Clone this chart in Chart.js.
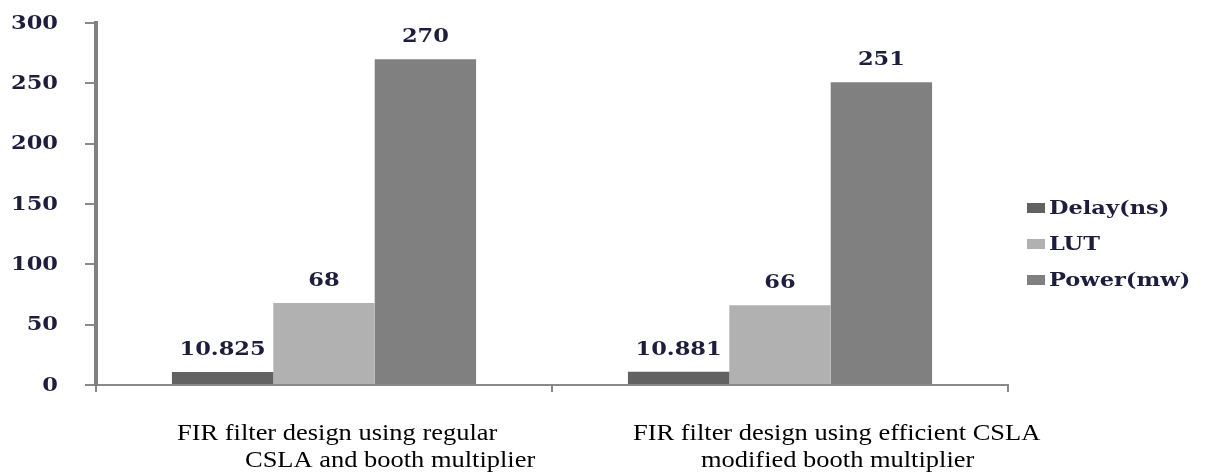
<!DOCTYPE html>
<html>
<head>
<meta charset="utf-8">
<script src="https://cdn.jsdelivr.net/npm/chart.js@4/dist/chart.umd.min.js"></script>
<style>
  html, body { margin: 0; padding: 0; background: #ffffff; }
  canvas { display: block; }
</style>
</head>
<body>
<canvas id="c" width="1215" height="474"></canvas>
<script>
// ---- data ----
const categories = [
  ["FIR filter design using regular", "CSLA and booth multiplier"],
  ["FIR filter design using efficient CSLA", "modified booth multiplier"]
];
const seriesNames = ["Delay(ns)", "LUT", "Power(mw)"];
const delayValues = [10.825, 10.881];
const lutValues = [68, 66];
const powerValues = [270, 251];
const yTicks = [0, 50, 100, 150, 200, 250, 300];

// ---- styles ----
const colors = ["#626262", "#b1b1b1", "#808080"];
const numFont = 'bold 18px "DejaVu Serif"';
const numColor = "#1d1d3d";
const stretch = 1.25;
const catFont = '23px "Liberation Serif"';
const catStretch = 1.15;

function drawStretched(ctx, text, x, y, align, sx) {
  const w = ctx.measureText(text).width * sx;
  let left = x;
  if (align === "center") left = x - w / 2;
  else if (align === "right") left = x - w;
  ctx.save();
  ctx.translate(left, y);
  ctx.scale(sx, 1);
  ctx.textAlign = "left";
  ctx.fillText(text, 0, 0);
  ctx.restore();
}

const textPlugin = {
  id: "textPlugin",
  afterDraw(chart) {
    const ctx = chart.ctx;
    const area = chart.chartArea;
    const ys = chart.scales.y;
    const xs = chart.scales.x;
    ctx.save();
    ctx.textBaseline = "middle";
    // y tick labels
    ctx.font = numFont;
    ctx.fillStyle = numColor;
    yTicks.forEach(v => {
      drawStretched(ctx, String(v), area.left - 38, ys.getPixelForValue(v) + 1, "right", stretch);
    });
    // value labels
    ctx.textBaseline = "alphabetic";
    chart.data.datasets.forEach((ds, i) => {
      const meta = chart.getDatasetMeta(i);
      meta.data.forEach((el, j) => {
        drawStretched(ctx, String(ds.data[j]), el.x, el.y - 17, "center", stretch);
      });
    });
    // category labels (left aligned, second line indented)
    ctx.font = catFont;
    ctx.fillStyle = "#000000";
    categories.forEach((lines, i) => {
      const cx = xs.getPixelForValue(i);
      drawStretched(ctx, lines[0], cx - 147, area.bottom + 55, "left", catStretch);
      drawStretched(ctx, lines[1], cx - 79, area.bottom + 82, "left", catStretch);
    });
    // legend
    ctx.font = numFont;
    chart.data.datasets.forEach((ds, i) => {
      const cy = 208 + i * 36;
      ctx.fillStyle = ds.backgroundColor;
      ctx.fillRect(area.right + 19, cy - 5, 18, 10);
      ctx.fillStyle = numColor;
      drawStretched(ctx, ds.label, area.right + 41, cy + 6, "left", stretch);
    });
    ctx.restore();
  }
};

new Chart(document.getElementById("c"), {
  type: "bar",
  data: {
    labels: categories,
    datasets: [
      { label: seriesNames[0], data: delayValues, backgroundColor: colors[0] },
      { label: seriesNames[1], data: lutValues, backgroundColor: colors[1] },
      { label: seriesNames[2], data: powerValues, backgroundColor: colors[2] }
    ]
  },
  options: {
    responsive: false,
    devicePixelRatio: 1,
    animation: false,
    layout: { padding: { left: 85, right: 207, top: 23, bottom: 82 } },
    datasets: { bar: { categoryPercentage: 0.667, barPercentage: 1.0, borderWidth: 0 } },
    plugins: { legend: { display: false }, tooltip: { enabled: false } },
    scales: {
      x: {
        ticks: { display: false },
        grid: { display: true, drawOnChartArea: false, drawTicks: true, tickLength: 7, color: "#8a8a8a", lineWidth: 2, offset: true },
        border: { display: true, color: "#8a8a8a", width: 2 }
      },
      y: {
        min: 0, max: 300,
        ticks: { display: false, stepSize: 50 },
        grid: { display: true, drawOnChartArea: false, drawTicks: true, tickLength: 11, color: "#8a8a8a", lineWidth: 2 },
        border: { display: true, color: "#808080", width: 4 }
      }
    }
  },
  plugins: [textPlugin]
});
</script>
</body>
</html>
